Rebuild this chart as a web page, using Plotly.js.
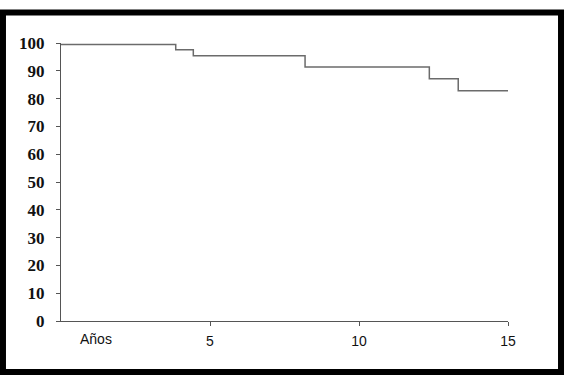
<!DOCTYPE html>
<html><head><meta charset="utf-8">
<script src="https://cdn.plot.ly/plotly-3.0.1.min.js"></script>
<style>html,body{margin:0;padding:0;background:#fff}#c{width:573px;height:391px}</style>
</head><body><div id="c"></div>
<script>
// Step survival curve (years vs %)
const years    = [0, 3.85, 4.44, 8.19, 12.36, 13.33, 15];
const survival = [99.5, 97.6, 95.4, 91.4, 87.1, 82.8, 82.8];
const yTicks   = [0,10,20,30,40,50,60,70,80,90,100];
const xTicks   = [5,10,15];
const xLabel   = 'Años';

const trace = {
  x: years, y: survival, type: 'scatter', mode: 'lines',
  line: {shape: 'hv', color: '#6b6b6b', width: 1.5},
  hoverinfo: 'skip'
};
const layout = {
  width: 573, height: 391,
  margin: {l: 61, r: 65, t: 43, b: 70},
  paper_bgcolor: '#fff', plot_bgcolor: '#fff',
  showlegend: false,
  xaxis: {
    range: [0, 15], tickvals: xTicks, ticktext: xTicks.map(String),
    showgrid: false, zeroline: false, showline: true, linecolor: '#555', linewidth: 1,
    ticks: 'outside', ticklen: 4, tickcolor: '#555', ticklabelstandoff: 3,
    tickfont: {family: 'Liberation Sans, Arial, sans-serif', size: 14, color: '#111'}
  },
  yaxis: {
    range: [0, 100], tickvals: yTicks,
    showgrid: false, zeroline: false, showline: true, linecolor: '#555', linewidth: 1,
    ticks: 'outside', ticklen: 4, tickcolor: '#555', ticklabelstandoff: 8,
    tickfont: {family: 'Liberation Serif, Times New Roman, serif', size: 17, color: '#111', weight: 'bold'}
  },
  annotations: [{
    text: xLabel, xref: 'x', yref: 'paper', x: 1.16, y: 0, yshift: -18,
    showarrow: false, xanchor: 'center', yanchor: 'middle',
    font: {family: 'Liberation Sans, Arial, sans-serif', size: 14, color: '#111'}
  }],
  shapes: [{
    type: 'rect', xref: 'paper', yref: 'paper',
    x0: -0.1298, x1: 1.1186, y0: -0.1835, y1: 1.1097,
    line: {color: '#000', width: 6}, fillcolor: 'rgba(0,0,0,0)'
  }]
};
Plotly.newPlot('c', [trace], layout, {staticPlot: true, displayModeBar: false});
</script></body></html>
